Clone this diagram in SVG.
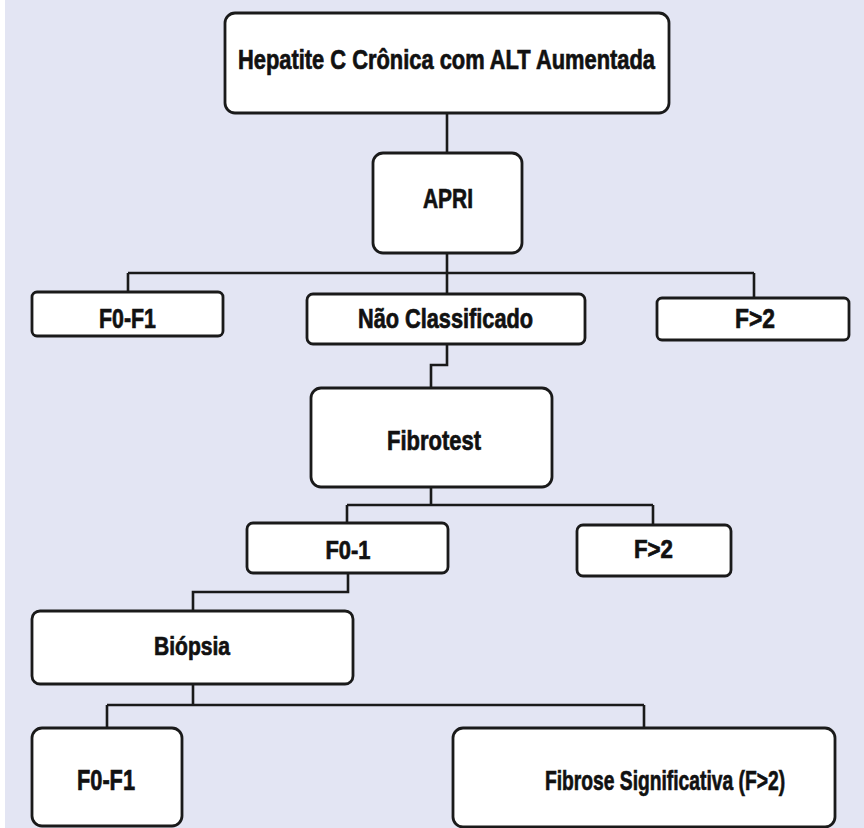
<svg xmlns="http://www.w3.org/2000/svg" width="864" height="828" viewBox="0 0 864 828">
<style>
.box{fill:#ffffff;stroke:#1a1a1a;stroke-width:2.8}
.lbl{font-family:"Liberation Sans Narrow","Liberation Sans",Arial,sans-serif;font-weight:bold;fill:#111111;stroke:#111111;stroke-width:0.7;text-anchor:middle}
.con{fill:none;stroke:#1a1a1a;stroke-width:2.6;stroke-linejoin:miter}
</style>
<rect x="0" y="0" width="864" height="828" fill="#ffffff"/>
<rect x="5" y="0" width="859" height="828" fill="#e3e5f3"/>
<g id="connectors">
<path class="con" d="M447 113 V153"/>
<path class="con" d="M447 253 V273 M128 273 H754 M128 273 V292 M447 273 V294 M754 273 V298"/>
<path class="con" d="M447 344 V365 H431 V388"/>
<path class="con" d="M431 487 V505 M347 505 H653 M347 505 V523 M653 505 V525"/>
<path class="con" d="M348 573 V592 H193 V611"/>
<path class="con" d="M193 684 V705 M107 705 H644 M107 705 V728 M644 705 V728"/>
</g>
<g id="n-hepatite">
<rect class="box" x="225" y="13" width="444" height="100" rx="10"/>
<text class="lbl" x="446.5" y="69" font-size="27" textLength="417" lengthAdjust="spacingAndGlyphs">Hepatite C Crônica com ALT Aumentada</text>
</g>
<g id="n-apri">
<rect class="box" x="373" y="153" width="149" height="100" rx="10"/>
<text class="lbl" x="448" y="208" font-size="27" textLength="50" lengthAdjust="spacingAndGlyphs">APRI</text>
</g>
<g id="n-f0f1-a">
<rect class="box" x="32" y="292" width="191" height="44" rx="5"/>
<text class="lbl" x="127.5" y="328" font-size="28" textLength="57" lengthAdjust="spacingAndGlyphs">F0-F1</text>
</g>
<g id="n-naoclass">
<rect class="box" x="307" y="294" width="278" height="50" rx="6"/>
<text class="lbl" x="445.5" y="328" font-size="27" textLength="175" lengthAdjust="spacingAndGlyphs">Não Classificado</text>
</g>
<g id="n-f2-a">
<rect class="box" x="657" y="298" width="192" height="42" rx="5"/>
<text class="lbl" x="755" y="328" font-size="28" textLength="40" lengthAdjust="spacingAndGlyphs">F&gt;2</text>
</g>
<g id="n-fibrotest">
<rect class="box" x="311" y="388" width="241" height="99" rx="10"/>
<text class="lbl" x="434" y="450" font-size="27" textLength="94" lengthAdjust="spacingAndGlyphs">Fibrotest</text>
</g>
<g id="n-f01">
<rect class="box" x="247" y="523" width="201" height="50" rx="6"/>
<text class="lbl" x="348" y="559" font-size="25" textLength="45" lengthAdjust="spacingAndGlyphs">F0-1</text>
</g>
<g id="n-f2-b">
<rect class="box" x="577" y="525" width="154" height="51" rx="6"/>
<text class="lbl" x="653.5" y="558" font-size="25" textLength="39" lengthAdjust="spacingAndGlyphs">F&gt;2</text>
</g>
<g id="n-biopsia">
<rect class="box" x="32" y="611" width="321" height="73" rx="8"/>
<text class="lbl" x="192" y="655" font-size="26" textLength="76" lengthAdjust="spacingAndGlyphs">Biópsia</text>
</g>
<g id="n-f0f1-b">
<rect class="box" x="32" y="728" width="150" height="98" rx="10"/>
<text class="lbl" x="106" y="790" font-size="29" textLength="58" lengthAdjust="spacingAndGlyphs">F0-F1</text>
</g>
<g id="n-fibrose">
<rect class="box" x="453" y="728" width="382" height="99" rx="10"/>
<text class="lbl" transform="translate(665 790) scale(0.7 1)" x="0" y="0" font-size="28" textLength="343" lengthAdjust="spacingAndGlyphs">Fibrose Significativa (F&gt;2)</text>
</g>
</svg>
